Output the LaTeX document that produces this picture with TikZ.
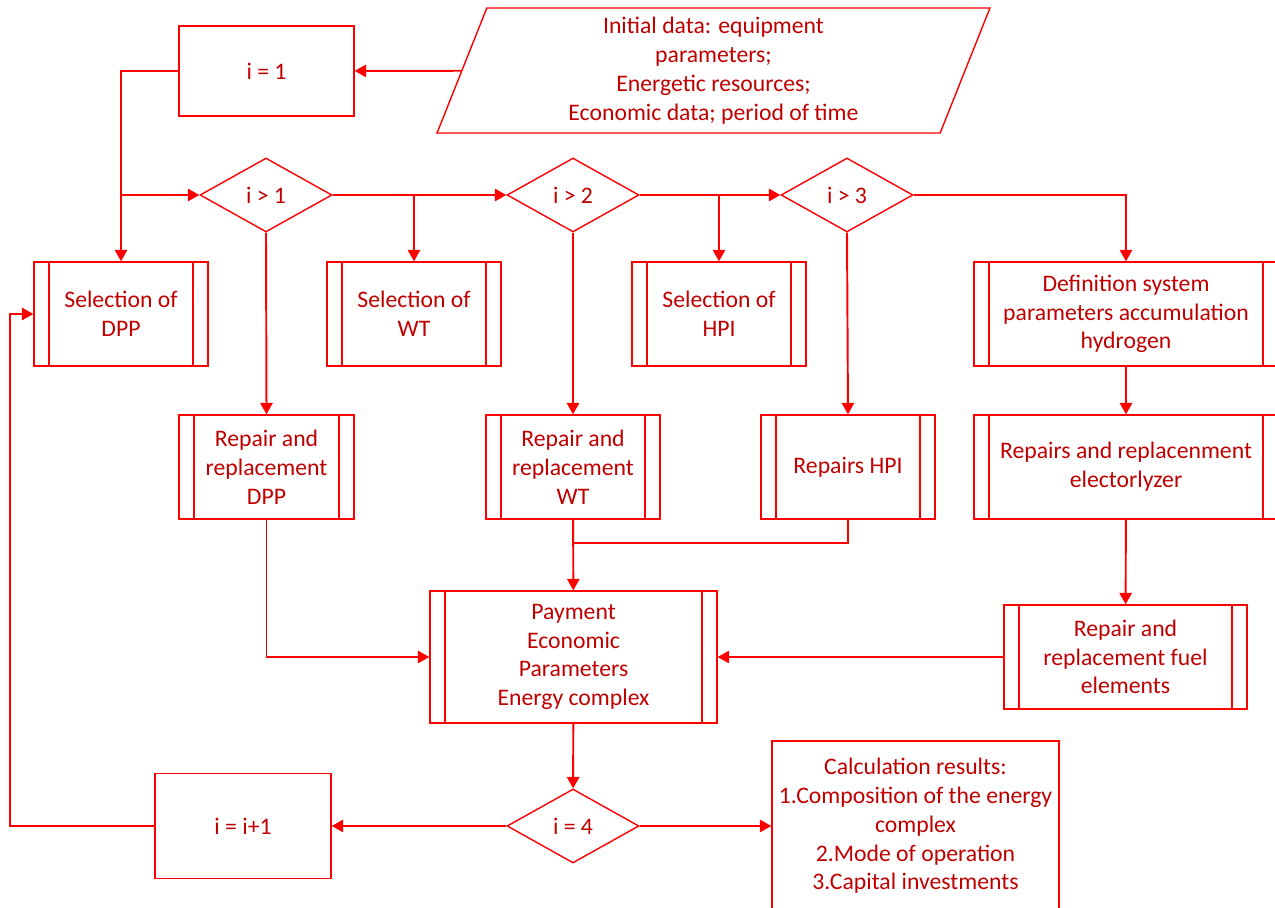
\documentclass[tikz,border=0pt]{standalone}
\usepackage{fontspec}
\setmainfont{Carlito}
\usepackage{tikz}
\usetikzlibrary{arrows.meta,shapes.geometric}
\definecolor{txtred}{HTML}{C00000}

\begin{document}
\begin{tikzpicture}[x=0.02cm,y=-0.02cm,
  font=\fontsize{13.5}{16.4}\selectfont, text=txtred,
  box/.style={draw=red,line width=0.8pt,minimum width=3.5cm,minimum height=2.08cm,align=center,inner sep=0pt},
  proc/.style={box,path picture={\draw[red,line width=0.8pt]
      ([xshift=0.3cm]path picture bounding box.north west) -- ([xshift=0.3cm]path picture bounding box.south west)
      ([xshift=-0.3cm]path picture bounding box.north east) -- ([xshift=-0.3cm]path picture bounding box.south east);}},
  cond/.style={diamond,draw=red,line width=0.8pt,minimum width=2.64cm,minimum height=1.48cm,inner sep=0pt},
  arr/.style={draw=red,line width=1.1pt,-{Triangle[length=6.5pt,width=7pt]}},
  ln/.style={draw=red,line width=1.1pt}]
\useasboundingbox (0,0) rectangle (1275,908);
\clip (0,0) rectangle (1275,908);

\node[trapezium,trapezium left angle=65,trapezium right angle=115,trapezium stretches body,
  draw=red,line width=0.8pt,minimum width=11.06cm,minimum height=2.5cm,align=center,inner sep=0pt]
  (init) at (713.5,70.5) {Initial data: equipment\\parameters;\\Energetic resources;\\Economic data; period of time};
\node[box,minimum height=1.8cm] (one) at (266.5,71) {i = 1};

\node[cond] (d1) at (266,195) {i > 1};
\node[cond] (d2) at (573,195) {i > 2};
\node[cond] (d3) at (847,195) {i > 3};

\node[proc,minimum width=3.48cm] (selDPP) at (121,314) {Selection of\\DPP};
\node[proc,minimum width=3.48cm] (selWT) at (414,314) {Selection of\\WT};
\node[proc,minimum width=3.48cm] (selHPI) at (719,314) {Selection of\\HPI};
\node[proc,minimum width=6.08cm] (defn) at (1126,314) {Definition system\\parameters accumulation\\hydrogen};

\node[proc] (repDPP) at (266.5,467) {Repair and\\replacement\\DPP};
\node[proc,minimum width=3.48cm] (repWT) at (573,467) {Repair and\\replacement\\WT};
\node[proc,minimum width=3.48cm] (repHPI) at (848,467) {Repairs HPI};
\node[proc,minimum width=6.08cm] (repEl) at (1126,467) {Repairs and replacenment\\electorlyzer};

\node[proc,minimum width=4.86cm] (repFuel) at (1125.5,657) {Repair and\\replacement fuel\\elements};
\node[proc,minimum width=5.74cm,minimum height=2.64cm] (pay) at (573.5,657) {Payment\\Economic\\Parameters\\Energy complex};

\node[cond] (d4) at (573,826) {i = 4};
\node[box,minimum width=3.52cm,minimum height=2.1cm] (inc) at (243,826) {i = i+1};
\node[box,minimum width=5.74cm,minimum height=3.4cm] (res) at (915.5,826) {Calculation results:\\1.Composition of the energy\\complex\\2.Mode of operation\\3.Capital investments};

\coordinate (join) at (573,543);
\coordinate (back) at (10,826);

\draw[arr] (init) -- (one);
\draw[arr] (one.west) -| (selDPP.north);
\draw[arr] (d1.west -| selDPP.north) -- (d1.west);
\draw[arr] (d1.east) -- (d2.west);
\draw[arr] (d1.east -| selWT.north) -- (selWT.north);
\draw[arr] (d2.east) -- (d3.west);
\draw[arr] (d2.east -| selHPI.north) -- (selHPI.north);
\draw[arr] (d3.east) -| (defn.north);
\draw[arr] (d1.south) -- (repDPP.north);
\draw[arr] (d2.south) -- (repWT.north);
\draw[arr] (d3.south) -- (repHPI.north);
\draw[arr] (defn) -- (repEl);
\draw[arr] (repEl) -- (repFuel);
\draw[arr] (repWT) -- (pay);
\draw[ln] (repHPI.south) |- (join);
\draw[arr] (repDPP.south) |- (pay.west);
\draw[arr] (repFuel) -- (pay);
\draw[arr] (pay) -- (d4);
\draw[arr] (d4.west) -- (inc.east);
\draw[arr] (d4.east) -- (res.west);
\draw[arr] (inc.west) -- (back) |- (selDPP.west);
\end{tikzpicture}
\end{document}
